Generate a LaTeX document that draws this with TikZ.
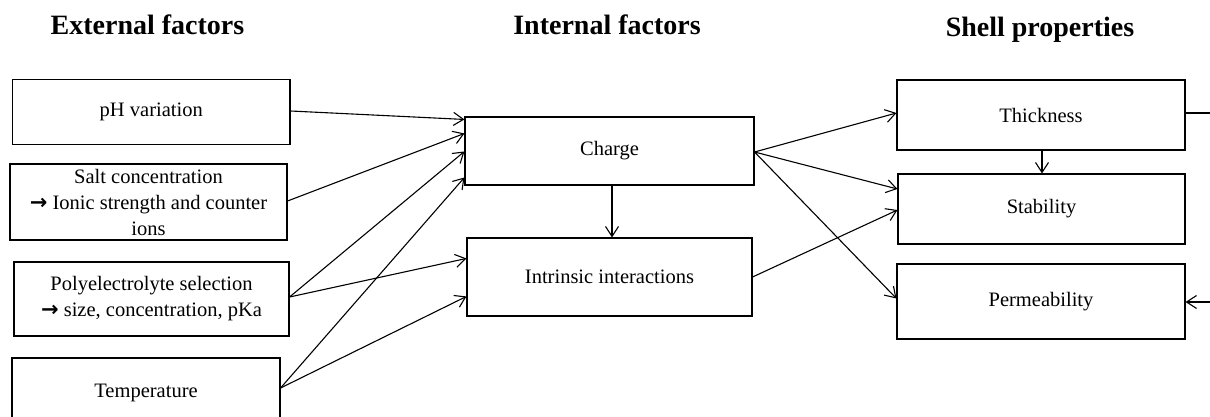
\documentclass[tikz,border=0pt]{standalone}
\usepackage{fontspec}
\setmainfont{Liberation Serif}
\newfontfamily\arrowfont{DejaVu Sans}
\usetikzlibrary{arrows.meta}
\newcommand{\rarr}{{\arrowfont\bfseries\fontsize{21}{20}\selectfont →}}
\begin{document}
\begin{tikzpicture}[x=1pt,y=-1pt,
  box/.style={draw, line width=1.1pt, rectangle, inner sep=0pt, align=center,
    font=\fontsize{20.5}{26}\selectfont},
  title/.style={font=\fontsize{28}{32}\selectfont\bfseries, inner sep=0pt},
  conn/.style={line width=1.1pt, -{Straight Barb[length=10pt,width=13pt,line width=1.1pt]}},
  plain/.style={line width=1.1pt}]
\useasboundingbox (0,0) rectangle (1210,417);
% titles
\node[title] (t1) at (147.5,25) {External factors};
\node[title] (t2) at (607,25) {Internal factors};
\node[title] (t3) at (1040,30) {Shell properties};
% external
\node[box, minimum width=277.5pt, minimum height=65pt] (ph) at (151.25,112) {pH variation};
\node[box, minimum width=277pt, minimum height=76pt] (salt) at (148.5,202) {Salt concentration\\ \rarr\ Ionic strength and counter\\ ions};
\node[box, minimum width=275pt, minimum height=74pt] (poly) at (151.5,299) {Polyelectrolyte selection\\ \rarr\ size, concentration, pKa};
\node[box, minimum width=268pt, minimum height=70pt] (temp) at (146,393) {Temperature};
% internal
\node[box, minimum width=289pt, minimum height=68pt] (charge) at (609.5,151) {Charge};
\node[box, minimum width=285pt, minimum height=78pt] (intr) at (609.5,277) {Intrinsic interactions};
% shell
\node[box, minimum width=288pt, minimum height=70pt] (thick) at (1041,115) {Thickness};
\node[box, minimum width=287pt, minimum height=70pt] (stab) at (1041.5,209) {Stability};
\node[box, minimum width=288pt, minimum height=75pt] (perm) at (1041,301.5) {Permeability};
% free ends at right edge
\coordinate (rt) at (1212,113);
\coordinate (rp) at (1212,302);
% connectors
\draw[conn] ([yshift=1pt]ph.east) -- ([yshift=-3pt]charge.north west);
\draw[conn] ([yshift=1pt]salt.east) -- ([yshift=-17pt]charge.north west);
\draw[conn] ([yshift=2pt]poly.east) -- ([yshift=-35pt]charge.north west);
\draw[conn] ([yshift=2pt]poly.east) -- ([yshift=-21pt]intr.north west);
\draw[conn] ([yshift=5pt]temp.east) -- ([yshift=-61pt]charge.north west);
\draw[conn] ([yshift=5pt]temp.east) -- ([yshift=-59pt]intr.north west);
\draw[conn] ([xshift=2.5pt]charge.south) -- ([xshift=2.5pt]charge.south |- intr.north);
\draw[conn] ([yshift=-1pt]charge.east) -- ([yshift=2pt]thick.west);
\draw[conn] ([yshift=-1pt]charge.east) -- ([yshift=20pt]stab.west);
\draw[conn] ([yshift=-1pt]charge.east) -- ([yshift=3pt]perm.west);
\draw[conn] (intr.east) -- ([yshift=-1pt]stab.west);
\draw[conn] ([xshift=1pt]thick.south) -- ([xshift=1pt]thick.south |- stab.north);
\draw[plain] (thick.east |- rt) -- (rt);
\draw[conn] (rp) -- (perm.east |- rp);
\end{tikzpicture}
\end{document}
